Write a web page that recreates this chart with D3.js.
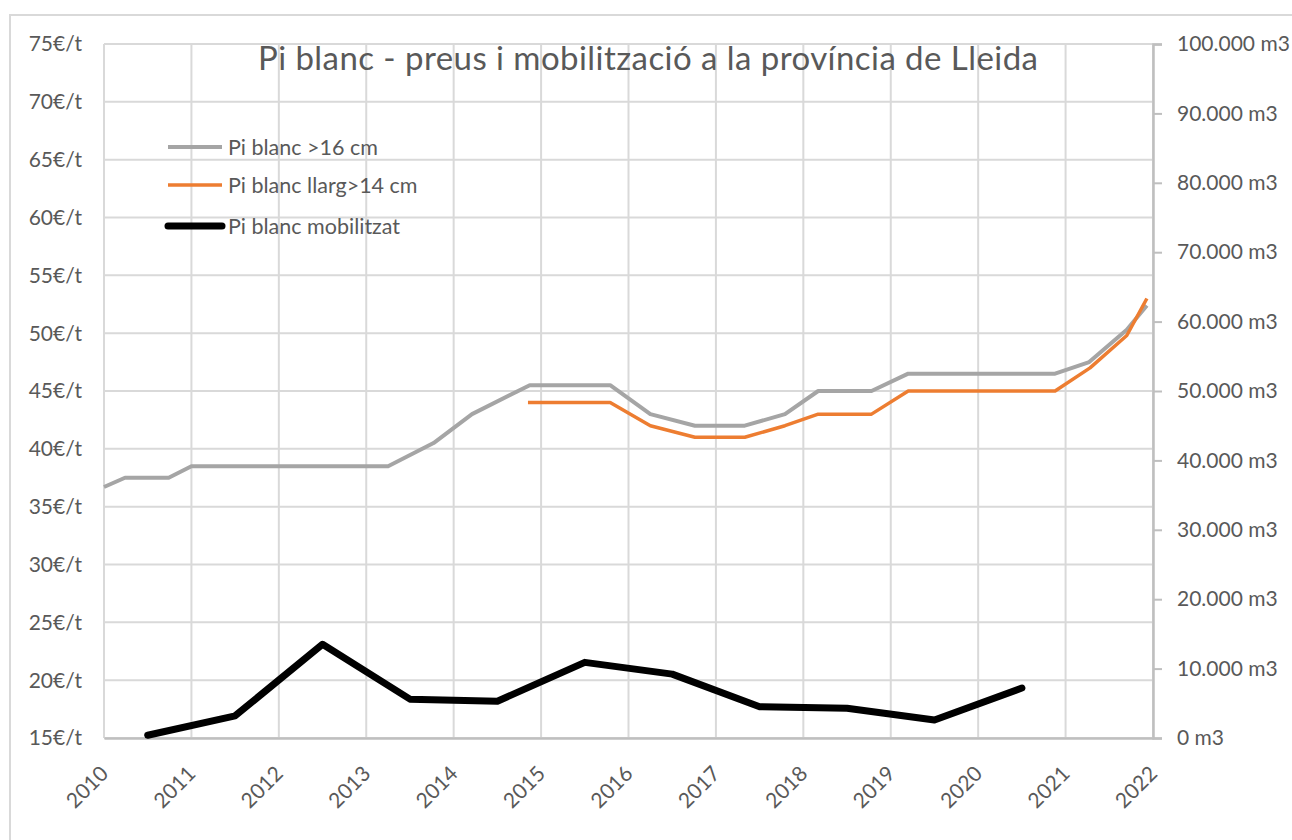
<!DOCTYPE html>
<html>
<head>
<meta charset="utf-8">
<script src="https://cdn.jsdelivr.net/npm/d3@7/dist/d3.min.js"></script>
<style>
  html, body { margin: 0; padding: 0; background: #fff; }
  svg { display: block; font-family: Lato, "Open Sans", sans-serif; }
</style>
</head>
<body>
<svg id="chart" width="1292" height="840"></svg>
<script>
// ---- Data ----
const title = "Pi blanc - preus i mobilització a la província de Lleida";
const seriesNames = ["Pi blanc >16 cm", "Pi blanc llarg>14 cm", "Pi blanc mobilitzat"];

// Pi blanc >16 cm (€/t), x in decimal years
const grayYears  = [2010.0, 2010.24, 2010.74, 2011.0, 2013.25, 2013.77, 2014.21, 2014.87, 2015.79, 2016.25, 2016.76, 2017.33, 2017.79, 2018.17, 2018.78, 2019.2, 2020.88, 2021.27, 2021.7, 2021.93];
const grayPrices = [36.7, 37.5, 37.5, 38.5, 38.5, 40.5, 43, 45.5, 45.5, 43, 42, 42, 43, 45, 45, 46.5, 46.5, 47.5, 50.3, 52.4];

// Pi blanc llarg>14 cm (€/t)
const orangeYears  = [2014.85, 2015.79, 2016.25, 2016.76, 2017.33, 2017.79, 2018.17, 2018.78, 2019.2, 2020.88, 2021.28, 2021.7, 2021.93];
const orangePrices = [44, 44, 42, 41, 41, 42, 43, 43, 45, 45, 47, 49.8, 53];

// Pi blanc mobilitzat (m3), yearly values plotted mid-year
const volYears  = [2010.5, 2011.5, 2012.5, 2013.5, 2014.5, 2015.5, 2016.5, 2017.5, 2018.5, 2019.5, 2020.5];
const volValues = [400, 3200, 13500, 5600, 5300, 10900, 9200, 4500, 4300, 2600, 7200];

const xTicks = [2010, 2011, 2012, 2013, 2014, 2015, 2016, 2017, 2018, 2019, 2020, 2021, 2022];
const leftTicks = [15, 20, 25, 30, 35, 40, 45, 50, 55, 60, 65, 70, 75];
const rightTicks = [0, 10000, 20000, 30000, 40000, 50000, 60000, 70000, 80000, 90000, 100000];

// ---- Layout ----
const plot = { left: 104, right: 1153, top: 44, bottom: 738 };
const textColor = "#595959";
const gridColor = "#D9D9D9";
const axisColor = "#BFBFBF";

const svg = d3.select("#chart");

const x = d3.scaleLinear().domain([2010, 2022]).range([plot.left, plot.right]);
const yL = d3.scaleLinear().domain([15, 75]).range([plot.bottom, plot.top]);
const yR = d3.scaleLinear().domain([0, 100000]).range([plot.bottom, plot.top]);

// Outer chart border
svg.append("rect")
  .attr("x", 10).attr("y", 15).attr("width", 1300).attr("height", 900)
  .attr("fill", "none").attr("stroke", gridColor).attr("stroke-width", 2);

// Gridlines
const grid = svg.append("g");
grid.selectAll("line.h").data(leftTicks).join("line")
  .attr("x1", plot.left).attr("x2", plot.right)
  .attr("y1", d => yL(d)).attr("y2", d => yL(d))
  .attr("stroke", gridColor).attr("stroke-width", 2);
grid.selectAll("line.v").data(xTicks).join("line")
  .attr("x1", d => x(d)).attr("x2", d => x(d))
  .attr("y1", plot.top).attr("y2", plot.bottom)
  .attr("stroke", gridColor).attr("stroke-width", 2);

// Title (drawn over the gridlines)
svg.append("text")
  .attr("x", 258).attr("y", 70)
  .attr("fill", textColor)
  .attr("font-size", 33)
  .attr("textLength", 780)
  .attr("lengthAdjust", "spacing")
  .text(title);

// Left axis labels
const fmtEuro = d => d + "€/t";
svg.append("g").selectAll("text").data(leftTicks).join("text")
  .attr("x", 82).attr("y", d => yL(d)).attr("dy", "0.35em")
  .attr("text-anchor", "end").attr("fill", textColor).attr("font-size", 21)
  .text(fmtEuro);

// Right axis
const fmtM3 = d => (d === 0 ? "0" : d3.format(",")(d).replace(/,/g, ".")) + " m3";
const rAxis = d3.axisRight(yR).tickValues(rightTicks).tickSize(9).tickPadding(15).tickFormat(fmtM3);
const rg = svg.append("g").attr("transform", `translate(${plot.right},0)`).call(rAxis);
rg.select(".domain").attr("stroke", axisColor).attr("stroke-width", 2.5);
rg.selectAll(".tick line").attr("stroke", axisColor).attr("stroke-width", 2);
rg.selectAll(".tick text").attr("fill", textColor).attr("font-size", 21).attr("font-family", "Lato, sans-serif");

// Bottom axis
const bAxis = d3.axisBottom(x).tickValues(xTicks).tickSize(0).tickFormat(d3.format("d"));
const bg = svg.append("g").attr("transform", `translate(0,${plot.bottom})`).call(bAxis);
bg.select(".domain").attr("stroke", axisColor).attr("stroke-width", 2.5);
bg.selectAll(".tick text")
  .attr("fill", textColor).attr("font-size", 21).attr("font-family", "Lato, sans-serif")
  .attr("text-anchor", "end")
  .attr("x", 0).attr("y", 0).attr("dy", 0)
  .attr("transform", "translate(5,37) rotate(-45)");

// Lines
const linePrice = d3.line().x(d => x(d[0])).y(d => yL(d[1]));
const lineVol = d3.line().x(d => x(d[0])).y(d => yR(d[1]));

svg.append("path")
  .datum(d3.zip(grayYears, grayPrices))
  .attr("d", linePrice).attr("fill", "none")
  .attr("stroke", "#A5A5A5").attr("stroke-width", 4).attr("stroke-linejoin", "round");

svg.append("path")
  .datum(d3.zip(orangeYears, orangePrices))
  .attr("d", linePrice).attr("fill", "none")
  .attr("stroke", "#ED7D31").attr("stroke-width", 3.5).attr("stroke-linejoin", "round");

svg.append("path")
  .datum(d3.zip(volYears, volValues))
  .attr("d", lineVol).attr("fill", "none")
  .attr("stroke", "#000").attr("stroke-width", 7)
  .attr("stroke-linejoin", "round").attr("stroke-linecap", "round");

// Legend
const legendColors = ["#A5A5A5", "#ED7D31", "#000"];
const legendWidths = [4, 3.5, 7];
const legendY = [147, 185, 226];
const lg = svg.append("g");
seriesNames.forEach((name, i) => {
  lg.append("line")
    .attr("x1", 168).attr("x2", 222).attr("y1", legendY[i]).attr("y2", legendY[i])
    .attr("stroke", legendColors[i]).attr("stroke-width", legendWidths[i])
    .attr("stroke-linecap", i === 2 ? "round" : "butt");
  lg.append("text")
    .attr("x", 228).attr("y", legendY[i]).attr("dy", "0.35em")
    .attr("fill", textColor).attr("font-size", 21.5)
    .text(name);
});
</script>
</body>
</html>
